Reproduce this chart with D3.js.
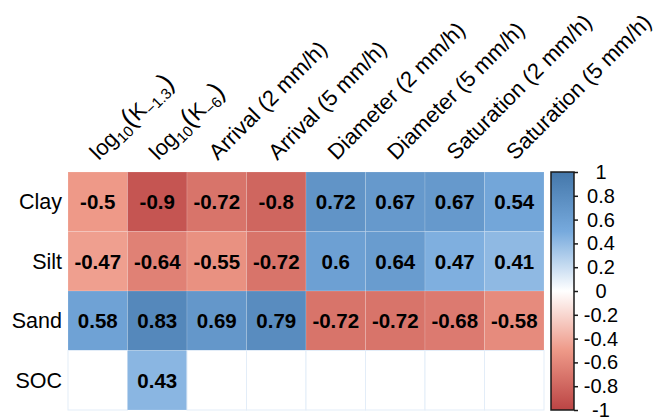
<!DOCTYPE html>
<html>
<head>
<meta charset="utf-8">
<script src="https://cdn.jsdelivr.net/npm/d3@7"></script>
<style>
  body { margin: 0; background: #fff; }
  text { font-family: "Liberation Sans", Arial, sans-serif; }
</style>
</head>
<body>
<script>
// rows / columns of the correlation table
const rowNames = ["Clay", "Silt", "Sand", "SOC"];
const colNames = ["log10(K-1.3)", "log10(K-6)", "Arrival (2 mm/h)", "Arrival (5 mm/h)",
    "Diameter (2 mm/h)", "Diameter (5 mm/h)", "Saturation (2 mm/h)", "Saturation (5 mm/h)"];

const clay = [-0.5, -0.9, -0.72, -0.8, 0.72, 0.67, 0.67, 0.54];
const silt = [-0.47, -0.64, -0.55, -0.72, 0.6, 0.64, 0.47, 0.41];
const sand = [0.58, 0.83, 0.69, 0.79, -0.72, -0.72, -0.68, -0.58];
const soc = [null, 0.43, null, null, null, null, null, null];

const legendTicks = [1, 0.8, 0.6, 0.4, 0.2, 0, -0.2, -0.4, -0.6, -0.8, -1];

const svgWidth = 657;
const svgHeight = 417;
const grid = {left: 68, top: 172, right: 544, bottom: 410};

const colorStops = ["#BB4444", "#EE9988", "#FFFFFF", "#77AADD", "#4477AA"];
const color = d3.scaleLinear()
    .domain([-1, -0.5, 0, 0.5, 1])
    .range(colorStops);

function main() {
    const rows = [clay, silt, sand, soc];
    const cells = [];
    rows.forEach((vals, i) => vals.forEach((v, j) => cells.push({row: rowNames[i], col: colNames[j], v: v})));

    const svg = d3.select("body").append("svg")
        .attr("width", svgWidth)
        .attr("height", svgHeight);

    const x = d3.scaleBand().domain(colNames).range([grid.left, grid.right]);
    const y = d3.scaleBand().domain(rowNames).range([grid.top, grid.bottom]);

    // cells
    svg.append("g").selectAll("rect")
        .data(cells)
        .join("rect")
        .attr("x", d => x(d.col))
        .attr("y", d => y(d.row))
        .attr("width", x.bandwidth())
        .attr("height", y.bandwidth())
        .attr("fill", d => d.v == null ? "#fff" : color(d.v))
        .attr("stroke", d => d.v == null ? "#e3edf8" : "#fff")
        .attr("stroke-opacity", d => d.v == null ? 1 : 0.15)
        .attr("stroke-width", 1);

    // values
    svg.append("g").selectAll("text")
        .data(cells.filter(d => d.v != null))
        .join("text")
        .attr("x", d => x(d.col) + x.bandwidth() / 2)
        .attr("y", d => y(d.row) + y.bandwidth() / 2)
        .attr("dy", "0.36em")
        .attr("text-anchor", "middle")
        .attr("font-size", 20.5)
        .attr("font-weight", "bold")
        .text(d => String(d.v));

    // row labels
    svg.append("g").selectAll("text")
        .data(rowNames)
        .join("text")
        .attr("x", grid.left - 6)
        .attr("y", d => y(d) + y.bandwidth() / 2)
        .attr("dy", "0.36em")
        .attr("text-anchor", "end")
        .attr("font-size", 21.5)
        .text(d => d);

    // column labels, rotated
    const colLab = svg.append("g").selectAll("text")
        .data(colNames)
        .join("text")
        .attr("font-size", 22)
        .attr("transform", d => `translate(${x(d) + x.bandwidth() / 2 + 1},${grid.top - 11}) rotate(-45)`);

    colLab.each(function(d) {
        const t = d3.select(this);
        if (d.startsWith("log10")) {
            const sub = d.slice(d.indexOf("K") + 1, -1).replace("-", "\u2212");
            t.append("tspan").text("log");
            t.append("tspan").attr("font-size", 15).attr("dy", 5).text("10");
            t.append("tspan").attr("dy", -5).attr("font-size", 27).text("(");
            t.append("tspan").text("K");
            t.append("tspan").attr("font-size", 15).attr("dy", 5).text(sub);
            t.append("tspan").attr("dy", -5).attr("font-size", 27).text(")");
        } else {
            t.text(d);
        }
    });

    // colour legend
    const lg = {x: 551, w: 23};
    const defs = svg.append("defs");
    const grad = defs.append("linearGradient")
        .attr("id", "cgrad")
        .attr("x1", 0).attr("x2", 0).attr("y1", 1).attr("y2", 0);
    grad.selectAll("stop")
        .data(colorStops)
        .join("stop")
        .attr("offset", (d, i) => i / (colorStops.length - 1))
        .attr("stop-color", d => d);

    const ly = d3.scaleLinear().domain([-1, 1]).range([grid.bottom, grid.top]);

    svg.append("rect")
        .attr("x", lg.x)
        .attr("y", ly(1))
        .attr("width", lg.w)
        .attr("height", ly(-1) - ly(1))
        .attr("fill", "url(#cgrad)")
        .attr("stroke", "#1a1a1a")
        .attr("stroke-width", 1.5);

    const axis = d3.axisRight(ly)
        .tickValues(legendTicks)
        .tickSize(4)
        .tickFormat(d => String(Math.round(d * 10) / 10));

    const ax = svg.append("g")
        .attr("transform", `translate(${lg.x + lg.w},0)`)
        .call(axis);
    ax.select(".domain").remove();
    ax.selectAll("line").attr("stroke", "#1a1a1a").attr("stroke-width", 1.5);
    ax.selectAll("text")
        .attr("x", 27)
        .attr("text-anchor", "middle")
        .attr("font-size", 20)
        .attr("font-family", "Liberation Sans, Arial, sans-serif")
        .attr("fill", "#000");
}

main();
</script>
</body>
</html>
